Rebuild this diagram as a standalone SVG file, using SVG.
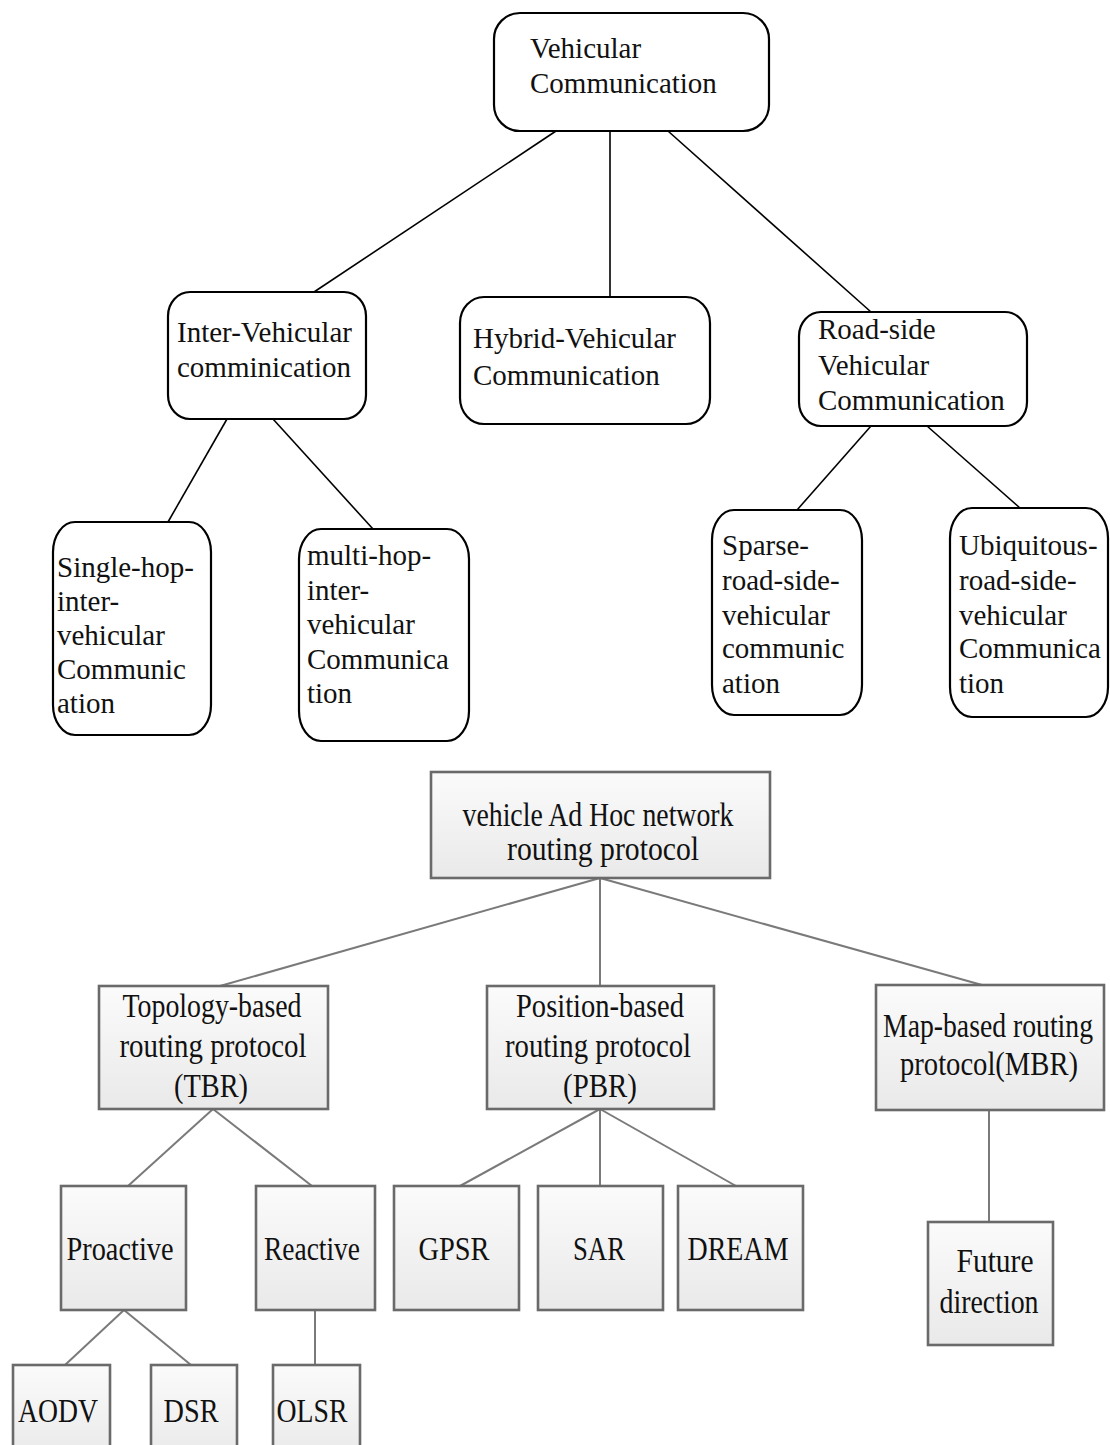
<svg xmlns="http://www.w3.org/2000/svg" width="1110" height="1445" viewBox="0 0 1110 1445">
<defs>
<linearGradient id="g" x1="0" y1="0" x2="0" y2="1">
<stop offset="0" stop-color="#fbfbfb"/>
<stop offset="1" stop-color="#e9e9e9"/>
</linearGradient>
<style>
.rb{fill:#fff;stroke:#000;stroke-width:2.2}
.t{font-family:"Liberation Serif","Times New Roman",serif;font-size:29px;fill:#111}
.sb{fill:url(#g);stroke:#6a6a6a;stroke-width:2.6}
.s{font-family:"Liberation Serif","Times New Roman",serif;font-size:34px;fill:#111;text-anchor:middle}
.c1 line{stroke:#000;stroke-width:1.6}
.c2 line{stroke:#7a7a7a;stroke-width:2}
</style>
</defs>
<rect width="1110" height="1445" fill="#fff"/>
<g id="connectors">
<g class="c1">
<line x1="556" y1="131" x2="314" y2="292"/>
<line x1="610" y1="131" x2="610" y2="297"/>
<line x1="668" y1="131" x2="871" y2="312"/>
<line x1="227" y1="419" x2="168" y2="522"/>
<line x1="273" y1="419" x2="373" y2="529"/>
<line x1="871" y1="426" x2="797" y2="510"/>
<line x1="927" y1="426" x2="1020" y2="508"/>
</g>
<g class="c2">
<line x1="600" y1="878" x2="220" y2="986"/>
<line x1="600" y1="878" x2="600" y2="986"/>
<line x1="600" y1="878" x2="982" y2="985"/>
<line x1="213" y1="1109" x2="128" y2="1186"/>
<line x1="213" y1="1109" x2="312" y2="1186"/>
<line x1="600" y1="1109" x2="460" y2="1186"/>
<line x1="600" y1="1109" x2="600" y2="1186"/>
<line x1="600" y1="1109" x2="736" y2="1186"/>
<line x1="989" y1="1110" x2="989" y2="1222"/>
<line x1="124" y1="1310" x2="65" y2="1365"/>
<line x1="124" y1="1310" x2="191" y2="1365"/>
<line x1="315" y1="1310" x2="315" y2="1365"/>
</g>
</g>
<g id="vehicular-communication">
<rect class="rb" x="494" y="13" width="275" height="118" rx="26" ry="26"/>
<text class="t" x="530" y="58">Vehicular</text>
<text class="t" x="530" y="93">Communication</text>
</g>
<g id="inter-vehicular">
<rect class="rb" x="168" y="292" width="198" height="127" rx="22" ry="24"/>
<text class="t" x="177" y="342">Inter-Vehicular</text>
<text class="t" x="177" y="377">comminication</text>
</g>
<g id="hybrid-vehicular">
<rect class="rb" x="460" y="297" width="250" height="127" rx="24" ry="26"/>
<text class="t" x="473" y="348">Hybrid-Vehicular</text>
<text class="t" x="473" y="385">Communication</text>
</g>
<g id="road-side-vehicular">
<rect class="rb" x="799" y="312" width="228" height="114" rx="22" ry="24"/>
<text class="t" x="818" y="339">Road-side</text>
<text class="t" x="818" y="375">Vehicular</text>
<text class="t" x="818" y="410">Communication</text>
</g>
<g id="single-hop">
<rect class="rb" x="53" y="522" width="158" height="213" rx="22" ry="30"/>
<text class="t" x="57" y="577">Single-hop-</text>
<text class="t" x="57" y="611">inter-</text>
<text class="t" x="57" y="645">vehicular</text>
<text class="t" x="57" y="679">Communic</text>
<text class="t" x="57" y="713">ation</text>
</g>
<g id="multi-hop">
<rect class="rb" x="299" y="529" width="170" height="212" rx="22" ry="30"/>
<text class="t" x="307" y="565">multi-hop-</text>
<text class="t" x="307" y="600">inter-</text>
<text class="t" x="307" y="634">vehicular</text>
<text class="t" x="307" y="669">Communica</text>
<text class="t" x="307" y="703">tion</text>
</g>
<g id="sparse">
<rect class="rb" x="712" y="510" width="150" height="205" rx="22" ry="30"/>
<text class="t" x="722" y="555">Sparse-</text>
<text class="t" x="722" y="590">road-side-</text>
<text class="t" x="722" y="625">vehicular</text>
<text class="t" x="722" y="658">communic</text>
<text class="t" x="722" y="693">ation</text>
</g>
<g id="ubiquitous">
<rect class="rb" x="950" y="508" width="158" height="209" rx="22" ry="30"/>
<text class="t" x="959" y="555">Ubiquitous-</text>
<text class="t" x="959" y="590">road-side-</text>
<text class="t" x="959" y="625">vehicular</text>
<text class="t" x="959" y="658">Communica</text>
<text class="t" x="959" y="693">tion</text>
</g>
<g id="vanet-routing">
<rect class="sb" x="431" y="772" width="339" height="106"/>
<text class="s" x="598" y="826" textLength="271" lengthAdjust="spacingAndGlyphs">vehicle Ad Hoc network</text>
<text class="s" x="603" y="860" textLength="192" lengthAdjust="spacingAndGlyphs">routing protocol</text>
</g>
<g id="tbr">
<rect class="sb" x="99" y="986" width="229" height="123"/>
<text class="s" x="212" y="1017" textLength="179" lengthAdjust="spacingAndGlyphs">Topology-based</text>
<text class="s" x="213" y="1057" textLength="187" lengthAdjust="spacingAndGlyphs">routing protocol</text>
<text class="s" x="211" y="1097" textLength="74" lengthAdjust="spacingAndGlyphs">(TBR)</text>
</g>
<g id="pbr">
<rect class="sb" x="487" y="986" width="227" height="123"/>
<text class="s" x="600" y="1017" textLength="168" lengthAdjust="spacingAndGlyphs">Position-based</text>
<text class="s" x="598" y="1057" textLength="186" lengthAdjust="spacingAndGlyphs">routing protocol</text>
<text class="s" x="600" y="1097" textLength="74" lengthAdjust="spacingAndGlyphs">(PBR)</text>
</g>
<g id="mbr">
<rect class="sb" x="876" y="985" width="228" height="125"/>
<text class="s" x="988" y="1037" textLength="210" lengthAdjust="spacingAndGlyphs">Map-based routing</text>
<text class="s" x="989" y="1075" textLength="178" lengthAdjust="spacingAndGlyphs">protocol(MBR)</text>
</g>
<g id="proactive">
<rect class="sb" x="61" y="1186" width="125" height="124"/>
<text class="s" x="120" y="1260" textLength="107" lengthAdjust="spacingAndGlyphs">Proactive</text>
</g>
<g id="reactive">
<rect class="sb" x="256" y="1186" width="119" height="124"/>
<text class="s" x="312" y="1260" textLength="96" lengthAdjust="spacingAndGlyphs">Reactive</text>
</g>
<g id="gpsr">
<rect class="sb" x="394" y="1186" width="125" height="124"/>
<text class="s" x="454" y="1260" textLength="71" lengthAdjust="spacingAndGlyphs">GPSR</text>
</g>
<g id="sar">
<rect class="sb" x="538" y="1186" width="125" height="124"/>
<text class="s" x="599" y="1260" textLength="52" lengthAdjust="spacingAndGlyphs">SAR</text>
</g>
<g id="dream">
<rect class="sb" x="678" y="1186" width="125" height="124"/>
<text class="s" x="738" y="1260" textLength="101" lengthAdjust="spacingAndGlyphs">DREAM</text>
</g>
<g id="future-direction">
<rect class="sb" x="928" y="1222" width="125" height="123"/>
<text class="s" x="995" y="1272" textLength="77" lengthAdjust="spacingAndGlyphs">Future</text>
<text class="s" x="989" y="1313" textLength="99" lengthAdjust="spacingAndGlyphs">direction</text>
</g>
<g id="aodv">
<rect class="sb" x="13" y="1365" width="97" height="95"/>
<text class="s" x="58" y="1422" textLength="80" lengthAdjust="spacingAndGlyphs">AODV</text>
</g>
<g id="dsr">
<rect class="sb" x="151" y="1365" width="86" height="95"/>
<text class="s" x="191" y="1422" textLength="55" lengthAdjust="spacingAndGlyphs">DSR</text>
</g>
<g id="olsr">
<rect class="sb" x="273" y="1365" width="87" height="95"/>
<text class="s" x="312" y="1422" textLength="71" lengthAdjust="spacingAndGlyphs">OLSR</text>
</g>
</svg>
